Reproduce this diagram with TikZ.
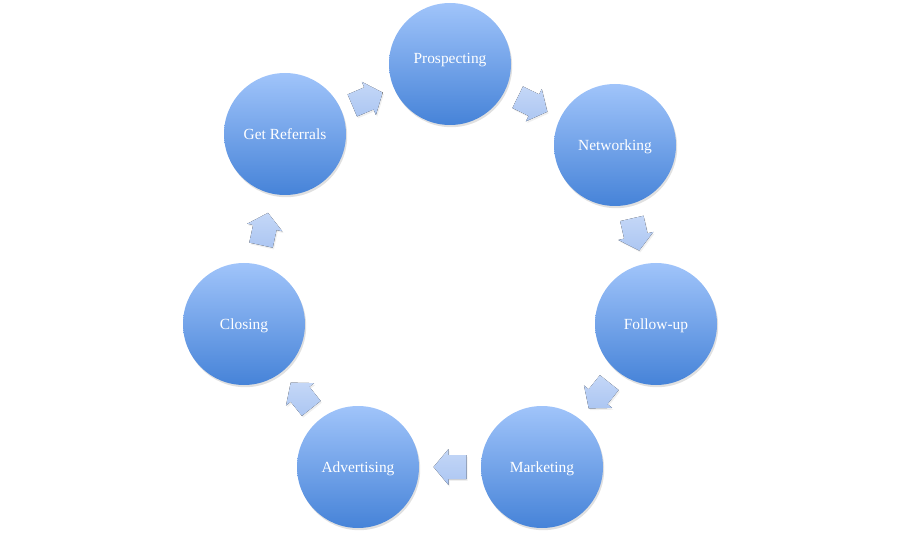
\documentclass[tikz,border=0pt]{standalone}
\usepackage{fontspec}
\setmainfont{Liberation Serif}
\usetikzlibrary{shadows,calc}
\definecolor{ballTop}{HTML}{A0C4FA}
\definecolor{ballBottom}{HTML}{4683D8}
\definecolor{arrowTop}{HTML}{C4D7F7}
\definecolor{arrowBottom}{HTML}{ACC6F2}
\tikzset{
  x=1bp, y=1bp,
  stagetext/.style={font=\fontsize{15.5}{18}\selectfont, text=white, text depth=0pt},
  stage/.style={circle, minimum size=122bp, inner sep=0pt,
    top color=ballTop, bottom color=ballBottom,
    drop shadow={shadow xshift=1.2bp, shadow yshift=-2.2bp, opacity=0.2, fill=black!60},
    stagetext},
  flowarrow/.pic={
    \fill[top color=arrowTop, bottom color=arrowBottom,
      drop shadow={shadow xshift=1.2bp, shadow yshift=-1.8bp, opacity=0.1, fill=black!60}]
      (16.5,0) -- (1.5,18) -- (1.5,12) -- (-16.5,12) -- (-16.5,-12)
      -- (1.5,-12) -- (1.5,-18) -- cycle;
  }
}
\begin{document}
\begin{tikzpicture}
\useasboundingbox (0,0) rectangle (900,-539);
% the seven stages of the cycle
\node[stage] (pro) at (450,-64) {};
\node[stagetext] (prolab) at (450,-58) {Prospecting};
\node[stage] (net) at (615,-145) {Networking};
\node[stage] (fol) at (656,-324) {Follow-up};
\node[stage] (mar) at (542,-467) {Marketing};
\node[stage] (adv) at (358,-467) {Advertising};
\node[stage] (clo) at (244,-324) {Closing};
\node[stage] (grf) at (285,-134) {Get Referrals};
% block arrows halfway between neighbouring stages
\path (grf.center) -- pic[pos=0.5, sloped, allow upside down]{flowarrow} (pro.center);
\path (pro.center) -- pic[pos=0.5, sloped, allow upside down]{flowarrow} (net.center);
\path (net.center) -- pic[pos=0.5, sloped, allow upside down]{flowarrow} (fol.center);
\path (fol.center) -- pic[pos=0.5, sloped, allow upside down]{flowarrow} (mar.center);
\path (mar.center) -- pic[pos=0.5, sloped, allow upside down]{flowarrow} (adv.center);
\path (adv.center) -- pic[pos=0.5, sloped, allow upside down]{flowarrow} (clo.center);
\path (clo.center) -- pic[pos=0.5, sloped, allow upside down]{flowarrow} (grf.center);
\end{tikzpicture}
\end{document}
